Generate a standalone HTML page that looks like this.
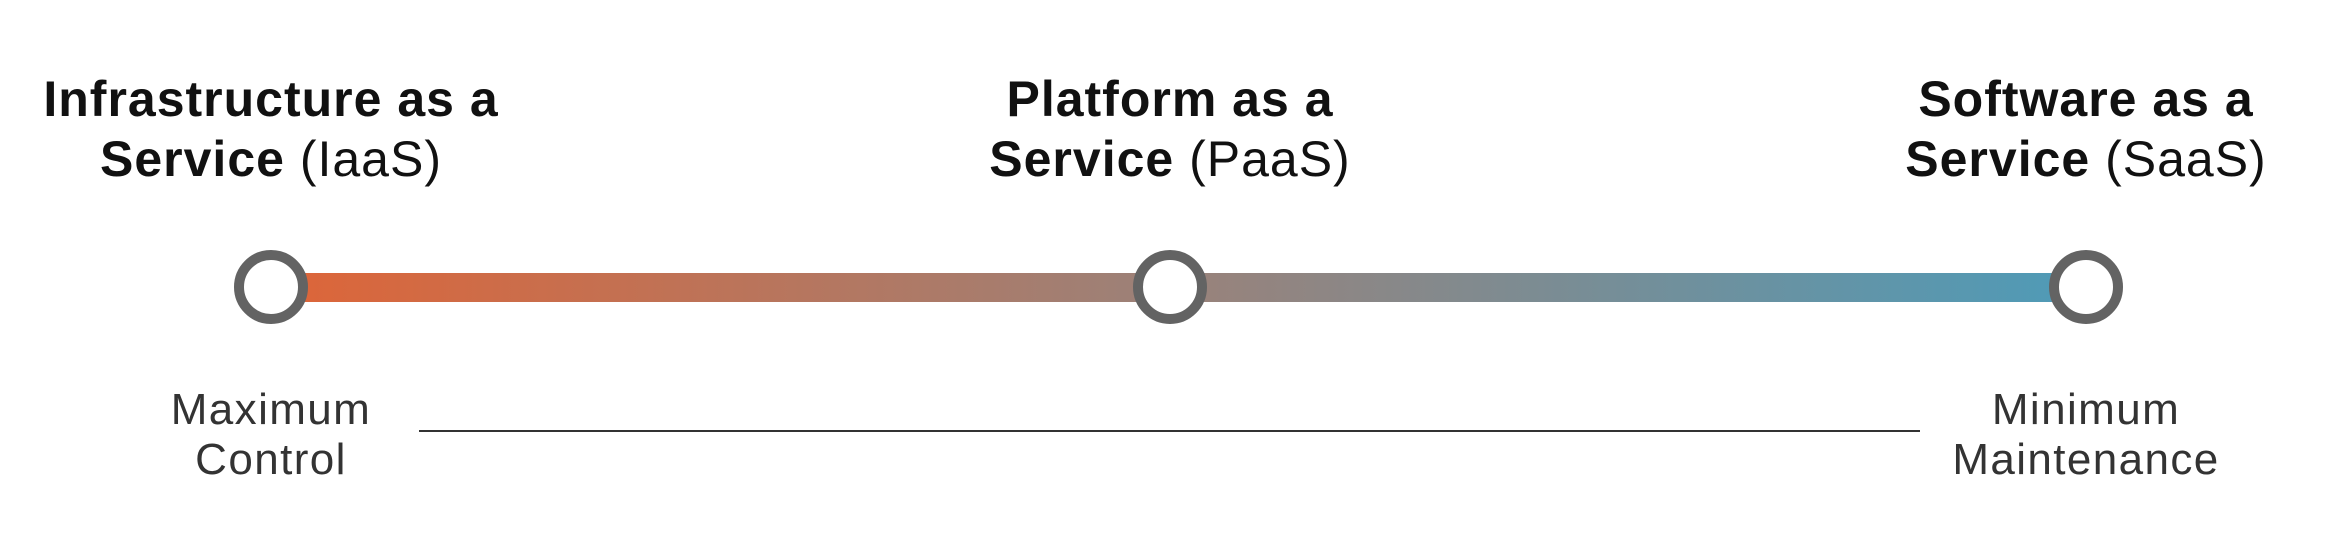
<!DOCTYPE html>
<html><head><meta charset="utf-8"><style>
html,body{margin:0;padding:0;background:#fff;width:2342px;height:552px;overflow:hidden}
</style></head><body>
<svg width="2342" height="552" viewBox="0 0 2342 552" xmlns="http://www.w3.org/2000/svg">
<defs>
<linearGradient id="g" x1="271" y1="0" x2="2086" y2="0" gradientUnits="userSpaceOnUse">
<stop offset="0" stop-color="#de6538"/>
<stop offset="0.5" stop-color="#9a827a"/>
<stop offset="1" stop-color="#4e9bb8"/>
</linearGradient>
</defs>
<rect x="271" y="273" width="1815" height="29" fill="url(#g)"/>
<g fill="#fff" stroke="#636363" stroke-width="10">
<circle cx="271" cy="287" r="32"/>
<circle cx="1170" cy="287" r="32"/>
<circle cx="2086" cy="287" r="32"/>
</g>
<line x1="419" y1="431" x2="1920" y2="431" stroke="#333" stroke-width="2"/>
<g font-family="Liberation Sans, sans-serif" font-size="50" letter-spacing="1" fill="#111" text-anchor="middle">
<text x="271" y="116" font-weight="bold">Infrastructure as a</text>
<text x="271" y="176"><tspan font-weight="bold">Service</tspan> (IaaS)</text>
<text x="1170" y="116" font-weight="bold">Platform as a</text>
<text x="1170" y="176"><tspan font-weight="bold">Service</tspan> (PaaS)</text>
<text x="2086" y="116" font-weight="bold">Software as a</text>
<text x="2086" y="176"><tspan font-weight="bold">Service</tspan> (SaaS)</text>
</g>
<g font-family="Liberation Sans, sans-serif" font-size="44" letter-spacing="1.4" fill="#333" text-anchor="middle">
<text x="271" y="424">Maximum</text>
<text x="271" y="474">Control</text>
<text x="2086" y="424">Minimum</text>
<text x="2086" y="474">Maintenance</text>
</g>
</svg>
</body></html>
